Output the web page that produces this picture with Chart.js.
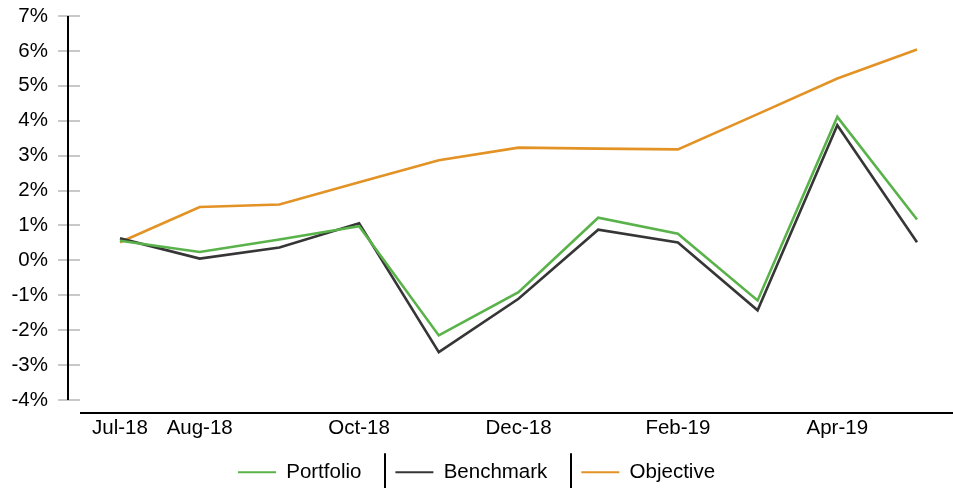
<!DOCTYPE html>
<html>
<head>
<meta charset="utf-8">
<script src="https://cdn.jsdelivr.net/npm/chart.js@4/dist/chart.umd.min.js"></script>
<style>
  html, body { margin: 0; padding: 0; background: #fff; }
  #c { display: block; }
</style>
</head>
<body>
<canvas id="c" width="953" height="488"></canvas>
<script>
const categories = ["Jul-18","Aug-18","Sep-18","Oct-18","Nov-18","Dec-18","Jan-19","Feb-19","Mar-19","Apr-19","May-19"];
const tickLabels = ["Jul-18","Aug-18","","Oct-18","","Dec-18","","Feb-19","","Apr-19",""];
const portfolio = [0.56, 0.24, 0.60, 0.98, -2.15, -0.91, 1.22, 0.76, -1.15, 4.11, 1.17];
const benchmark = [0.63, 0.05, 0.37, 1.06, -2.63, -1.10, 0.88, 0.51, -1.43, 3.87, 0.52];
const objective = [0.52, 1.53, 1.60, 2.24, 2.87, 3.23, 3.20, 3.18, 4.19, 5.21, 6.04];
const yTicksMin = -4, yTicksMax = 7;

const FONT = { family: "'Liberation Sans', Arial, sans-serif", size: 20.5 };

const axisPlugin = {
  id: 'axisPlugin',
  afterLayout(chart) {
    const lg = chart.legend;
    if (!lg) return;
    const dx = (chart.width - lg.right - lg.left) / 2;
    const dy = -12;
    lg.left = 0;
    lg.right = chart.width;
    lg.width = chart.width;
    lg.top += dy;
    lg.height = lg.bottom - lg.top;
    (lg.legendHitBoxes || []).forEach(h => { h.left += dx; h.top += dy; });
  },
  beforeDatasetsDraw(chart) {
    const {ctx, chartArea, scales: {y}} = chart;
    ctx.save();
    ctx.strokeStyle = '#c8c8c8';
    ctx.lineWidth = 2;
    y.ticks.forEach(t => {
      const py = Math.round(y.getPixelForValue(t.value));
      ctx.beginPath();
      ctx.moveTo(chartArea.left - 62, py);
      ctx.lineTo(chartArea.left - 40, py);
      ctx.stroke();
    });
    ctx.strokeStyle = '#000';
    ctx.lineWidth = 2;
    ctx.beginPath();
    ctx.moveTo(chartArea.left - 52, y.getPixelForValue(yTicksMax));
    ctx.lineTo(chartArea.left - 52, y.getPixelForValue(yTicksMin));
    ctx.stroke();
    ctx.beginPath();
    ctx.moveTo(chartArea.left - 40, chartArea.bottom + 13);
    ctx.lineTo(chart.width, chartArea.bottom + 13);
    ctx.stroke();
    ctx.restore();
  },
  afterDraw(chart) {
    const lg = chart.legend;
    if (!lg || !lg.legendHitBoxes) return;
    const ctx = chart.ctx;
    ctx.save();
    ctx.strokeStyle = '#000';
    ctx.lineWidth = 2;
    for (let i = 1; i < lg.legendHitBoxes.length; i++) {
      const hb = lg.legendHitBoxes[i];
      const x = Math.round(hb.left - 10);
      ctx.beginPath();
      ctx.moveTo(x, hb.top + hb.height / 2 - 7);
      ctx.lineTo(x, chart.height);
      ctx.stroke();
    }
    ctx.restore();
  }
};

new Chart(document.getElementById('c'), {
  type: 'line',
  data: {
    labels: categories,
    datasets: [
      { label: 'Portfolio', data: portfolio, borderColor: '#5ab34a', backgroundColor: '#5ab34a', borderWidth: 2.6 },
      { label: 'Benchmark', data: benchmark, borderColor: '#363636', backgroundColor: '#363636', borderWidth: 2.6 },
      { label: 'Objective', data: objective, borderColor: '#e39225', backgroundColor: '#e39225', borderWidth: 2.6 }
    ]
  },
  options: {
    responsive: false,
    animation: false,
    events: [],
    layout: { padding: { top: 16, right: 36, left: 0, bottom: 0 } },
    elements: { point: { radius: 0 }, line: { tension: 0 } },
    scales: {
      x: {
        type: 'category',
        offset: false,
        grid: { display: false, drawTicks: false },
        border: { display: false },
        ticks: {
          autoSkip: false, maxRotation: 0, minRotation: 0,
          font: FONT, color: '#000', padding: 16,
          callback: (v, i) => tickLabels[i]
        },
        afterFit: s => { s.height = 40; }
      },
      y: {
        min: yTicksMin, max: yTicksMax,
        grid: { display: false, drawTicks: true, tickLength: 72 },
        border: { display: false },
        ticks: {
          stepSize: 1, font: FONT, color: '#000', padding: 0,
          callback: v => v + '%'
        },
        afterFit: s => { s.width = 120; }
      }
    },
    plugins: {
      tooltip: { enabled: false },
      legend: {
        position: 'bottom',
        maxHeight: 48,
        labels: {
          usePointStyle: true, pointStyle: 'line', pointStyleWidth: 38, boxWidth: 38,
          font: FONT, color: '#000', padding: 34,
          generateLabels: chart => Chart.defaults.plugins.legend.labels.generateLabels(chart).map(it => Object.assign(it, { lineWidth: 2 }))
        }
      }
    }
  },
  plugins: [axisPlugin]
});
</script>
</body>
</html>
